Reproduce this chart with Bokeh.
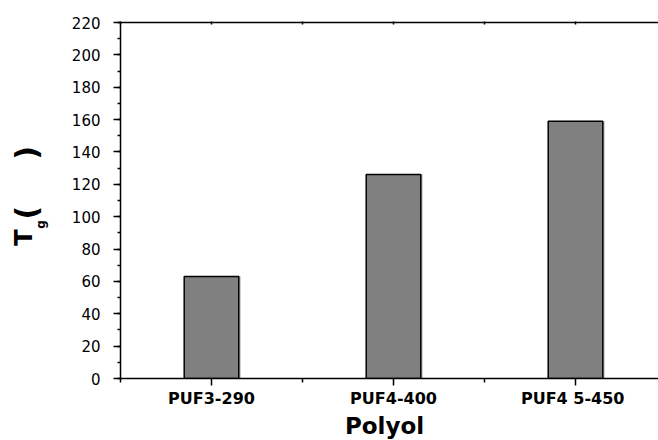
from bokeh.plotting import figure
from bokeh.models import Range1d, FixedTicker, LinearAxis, Label, ColumnDataSource
from bokeh.layouts import row, column
from bokeh.transform import dodge
from bokeh.embed import file_html
from bokeh.resources import INLINE
from math import pi

# ---- data ----
categories = ["PUF3-290", "PUF4-400", "PUF4  5-450"]
tg_values = [63, 126, 159]
y_major_ticks = list(range(0, 221, 20))
y_minor_ticks = list(range(0, 221, 10))
x_title = "Polyol"

positions = [i + 1 for i in range(len(categories))]
x_minor = [i + 0.5 for i in range(len(categories) + 1)]

FONT = "DejaVu Sans"

# page geometry (px)
W, H = 658, 440
LEFT_W = 60          # strip holding the y title
BOTTOM_H = 30        # strip holding the x title
MAIN_W, MAIN_H = W - LEFT_W, H - BOTTOM_H
FRAME_LEFT = 120 - LEFT_W
FRAME_TOP = 22
FRAME_BOTTOM_BORDER = MAIN_H - 379


def blank_fig(w, h, xr, yr):
    f = figure(width=w, height=h, output_backend="svg", toolbar_location=None,
               x_range=Range1d(*xr), y_range=Range1d(*yr),
               x_axis_type=None, y_axis_type=None, min_border=0)
    f.outline_line_color = None
    f.background_fill_color = "white"
    f.border_fill_color = "white"
    return f


# ---- main chart ----
p = figure(width=MAIN_W, height=MAIN_H, output_backend="svg", toolbar_location=None,
           x_range=Range1d(0.5, 3.456), y_range=Range1d(0, 220),
           min_border_left=FRAME_LEFT, min_border_right=0,
           min_border_top=FRAME_TOP, min_border_bottom=FRAME_BOTTOM_BORDER)
p.outline_line_color = None
p.xgrid.visible = False
p.ygrid.visible = False
p.background_fill_color = "white"
p.border_fill_color = "white"

src = ColumnDataSource(dict(x=positions, top=tg_values))
p.vbar(x=dodge("x", 0.011, range=p.x_range), top="top", width=0.3, source=src,
       fill_color="#c4c4c4", line_color=None)
p.vbar(x="x", top="top", width=0.3, source=src,
       fill_color="#808080", line_color="black", line_width=1.5)

xa = p.xaxis[0]
xa.ticker = FixedTicker(ticks=positions, minor_ticks=x_minor)
xa.major_label_overrides = {pos: cat for pos, cat in zip(positions, categories)}
xa.axis_line_width = 1.5
xa.major_tick_line_width = 1.5
xa.minor_tick_line_width = 1.5
xa.major_tick_in = 0
xa.major_tick_out = 7
xa.minor_tick_in = 0
xa.minor_tick_out = 4
xa.major_label_standoff = 3
xa.major_label_text_font = FONT
xa.major_label_text_font_style = "bold"
xa.major_label_text_font_size = "16px"
xa.major_label_text_color = "black"
xa.axis_label = None

ya = p.yaxis[0]
ya.ticker = FixedTicker(ticks=y_major_ticks, minor_ticks=y_minor_ticks)
ya.axis_line_width = 1.5
ya.major_tick_line_width = 1.5
ya.minor_tick_line_width = 1.5
ya.major_tick_in = 0
ya.major_tick_out = 7
ya.minor_tick_in = 0
ya.minor_tick_out = 3
ya.major_label_standoff = 13
ya.major_label_text_font = FONT
ya.major_label_text_font_size = "15px"
ya.major_label_text_color = "black"
ya.axis_label = None

top = LinearAxis(ticker=FixedTicker(ticks=[], minor_ticks=x_minor + positions))
top.axis_line_width = 1.5
top.minor_tick_line_width = 1.5
top.minor_tick_in = 2
top.minor_tick_out = 1
p.add_layout(top, "above")

# ---- y title strip: T, subscript g, parentheses (pixel coordinates) ----
yfig = blank_fig(LEFT_W, MAIN_H, (0, LEFT_W), (MAIN_H, 0))


def vlabel(text, x, y, size):
    yfig.add_layout(Label(x=x, y=y, text=text, angle=pi / 2,
                          text_align="left", text_baseline="alphabetic",
                          text_font=FONT, text_font_style="bold",
                          text_font_size=size, text_color="black"))


vlabel("T", 23, 257, "24px")
vlabel("g", 40.5, 237.5, "12px")
vlabel("(", 26, 227, "30px")
vlabel(")", 26, 158, "30px")

# ---- x title strip ----
xfig = blank_fig(W, BOTTOM_H, (0, W), (H, MAIN_H))
xfig.add_layout(Label(x=384, y=425.5, text=x_title, text_align="center",
                      text_baseline="alphabetic", text_font=FONT,
                      text_font_style="bold", text_font_size="23px",
                      text_color="black"))

layout = column(row(yfig, p, spacing=0), xfig, spacing=0)
open("out.html", "w").write(file_html(layout, INLINE))
